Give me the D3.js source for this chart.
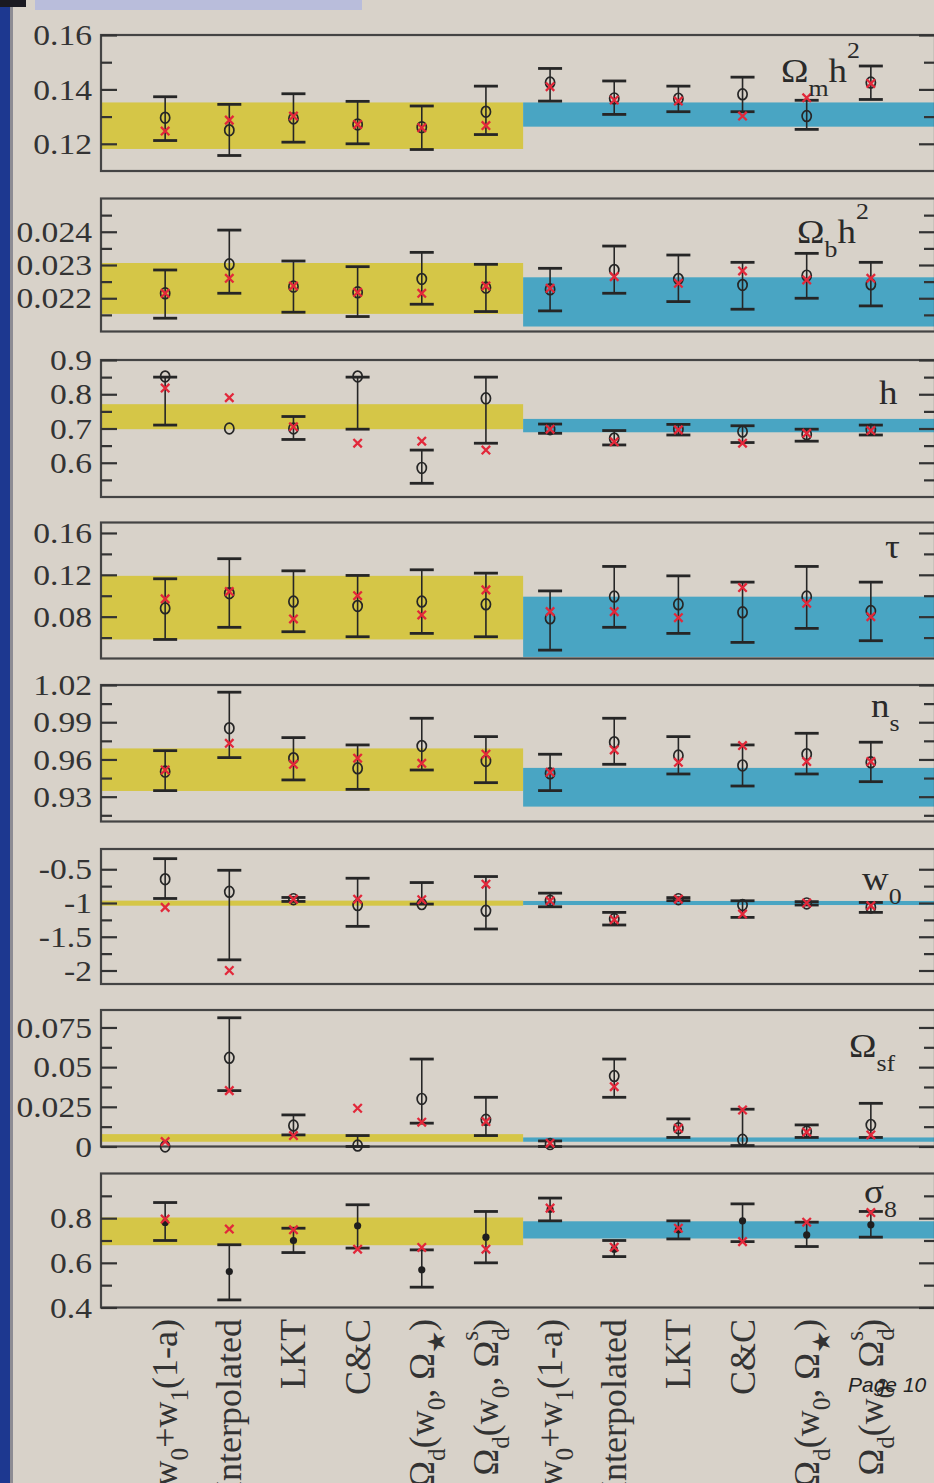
<!DOCTYPE html>
<html>
<head>
<meta charset="utf-8">
<script src="https://cdn.jsdelivr.net/npm/d3@7"></script>
<style>
  html, body { margin: 0; padding: 0; background: #d8d2c9; }
  svg { display: block; }
</style>
</head>
<body>
<div id="chart"></div>
<script>
// ---- categories (two groups of the same six dark-energy parametrisations) ----
const methods = ["w_{0}+w_{1}(1-a)", "Interpolated", "LKT", "C&C", "Ω_{d}(w_{0}, Ω_{★})", "Ω_{d}(w_{0}, Ω_{d}^{s})"];
const categories = methods.concat(methods);

// ---- Ω_m h^2 ----
const omMid = [0.1296, 0.1250, 0.1293, 0.1271, 0.1261, 0.1318, 0.1425, 0.1367, 0.1366, 0.1382, 0.1302, 0.1425];
const omHi  = [0.1373, 0.1345, 0.1384, 0.1356, 0.1339, 0.1412, 0.1477, 0.1431, 0.1412, 0.1445, 0.1360, 0.1486];
const omLo  = [0.1212, 0.1157, 0.1206, 0.1200, 0.1179, 0.1234, 0.1357, 0.1308, 0.1318, 0.1318, 0.1253, 0.1363];
const omAlt = [0.1247, 0.1287, 0.1302, 0.1271, 0.1259, 0.1267, 0.1410, 0.1361, 0.1357, 0.1302, 0.1369, 0.1422];
const omBands = [[0.1181, 0.1352], [0.1263, 0.1352]];
const omTicks = [0.12, 0.14, 0.16], omTickLabels = ["0.12", "0.14", "0.16"], omMinor = [0.13, 0.15];

// ---- Ω_b h^2 ----
const obMid = [0.02215, 0.02302, 0.02235, 0.02218, 0.02258, 0.02232, 0.02227, 0.02285, 0.02258, 0.02240, 0.02268, 0.02242];
const obHi  = [0.02285, 0.02405, 0.02312, 0.02295, 0.02338, 0.02302, 0.02290, 0.02357, 0.02330, 0.02308, 0.02335, 0.02308];
const obLo  = [0.02140, 0.02215, 0.02158, 0.02145, 0.02182, 0.02160, 0.02162, 0.02215, 0.02190, 0.02167, 0.02200, 0.02177];
const obAlt = [0.02215, 0.02260, 0.02237, 0.02218, 0.02215, 0.02237, 0.02230, 0.02265, 0.02245, 0.02282, 0.02255, 0.02260];
const obBands = [[0.02153, 0.02306], [0.02115, 0.02263]];
const obTicks = [0.022, 0.023, 0.024], obTickLabels = ["0.022", "0.023", "0.024"], obMinor = [0.0215, 0.0225, 0.0235, 0.0245];

// ---- h ----
const hMid = [0.852, 0.700, 0.700, 0.852, 0.585, 0.788, 0.698, 0.671, 0.698, 0.691, 0.683, 0.696];
const hHi  = [0.850, null, 0.735, 0.850, 0.637, 0.850, 0.713, 0.694, 0.712, 0.708, 0.698, 0.710];
const hLo  = [0.710, null, 0.668, 0.698, 0.540, 0.657, 0.686, 0.652, 0.681, 0.659, 0.663, 0.681];
const hAlt = [0.818, 0.790, 0.705, 0.657, 0.663, 0.637, 0.698, 0.661, 0.696, 0.657, 0.686, 0.694];
const hBands = [[0.698, 0.771], [0.689, 0.728]];
const hTicks = [0.6, 0.7, 0.8, 0.9], hTickLabels = ["0.6", "0.7", "0.8", "0.9"], hMinor = [0.55, 0.65, 0.75, 0.85];

// ---- τ ----
const tauMid = [0.0880, 0.1024, 0.0944, 0.0902, 0.0944, 0.0918, 0.0784, 0.0992, 0.0918, 0.0842, 0.0992, 0.0854];
const tauHi  = [0.1162, 0.1354, 0.1238, 0.1194, 0.1248, 0.1216, 0.1046, 0.1280, 0.1190, 0.1130, 0.1280, 0.1130];
const tauLo  = [0.0582, 0.0698, 0.0656, 0.0608, 0.0640, 0.0608, 0.0480, 0.0698, 0.0640, 0.0554, 0.0688, 0.0570];
const tauAlt = [0.0970, 0.1040, 0.0778, 0.1000, 0.0816, 0.1056, 0.0848, 0.0848, 0.0790, 0.1078, 0.0928, 0.0800];
const tauBands = [[0.0582, 0.119], [0.0415, 0.0991]];
const tauTicks = [0.08, 0.12, 0.16], tauTickLabels = ["0.08", "0.12", "0.16"], tauMinor = [0.06, 0.10, 0.14];

// ---- n_s ----
const nsMid = [0.9502, 0.9852, 0.9610, 0.9529, 0.9709, 0.9588, 0.9488, 0.9739, 0.9631, 0.9552, 0.9642, 0.9577];
const nsHi  = [0.9671, 1.0142, 0.9776, 0.9717, 0.9932, 0.9784, 0.9642, 0.9932, 0.9784, 0.9717, 0.9811, 0.9739];
const nsLo  = [0.9349, 0.9615, 0.9435, 0.9359, 0.9515, 0.9413, 0.9349, 0.9561, 0.9483, 0.9386, 0.9483, 0.9421];
const nsAlt = [0.9515, 0.9730, 0.9561, 0.9610, 0.9569, 0.9642, 0.9496, 0.9677, 0.9577, 0.9712, 0.9583, 0.9583];
const nsBands = [[0.9346, 0.9689], [0.922, 0.9532]];
const nsTicks = [0.93, 0.96, 0.99, 1.02], nsTickLabels = ["0.93", "0.96", "0.99", "1.02"], nsMinor = [0.915, 0.945, 0.975, 1.005];

// ---- w_0 ----
const w0Mid = [-0.648, -0.834, -0.943, -1.031, -1.016, -1.115, -0.967, -1.238, -0.943, -1.031, -1.006, -1.065];
const w0Hi  = [-0.343, -0.515, -0.918, -0.633, -0.697, -0.608, -0.854, -1.139, -0.920, -0.967, -0.980, -0.992];
const w0Lo  = [-0.933, -1.842, -0.977, -1.346, -1.016, -1.385, -1.056, -1.326, -0.965, -1.213, -1.030, -1.139];
const w0Alt = [-1.065, -2.000, -0.943, -0.943, -0.952, -0.721, -0.967, -1.247, -0.943, -1.164, -1.000, -1.040];
const w0Bands = [[-1.04, -0.965], [-1.03, -0.97]];
const w0Ticks = [-2, -1.5, -1, -0.5], w0TickLabels = ["-2", "-1.5", "-1", "-0.5"], w0Minor = [-1.75, -1.25, -0.75];

// ---- Ω_sf ----
const sfMid = [0.0000, 0.0559, 0.0132, 0.0006, 0.0300, 0.0168, 0.0015, 0.0444, 0.0115, 0.0042, 0.0094, 0.0136];
const sfHi  = [null, 0.0811, 0.0199, 0.0069, 0.0551, 0.0310, 0.0035, 0.0551, 0.0174, 0.0235, 0.0136, 0.0272];
const sfLo  = [null, 0.0352, 0.0073, 0.0000, 0.0147, 0.0069, 0.0000, 0.0310, 0.0057, 0.0006, 0.0057, 0.0057];
const sfAlt = [0.0031, 0.0352, 0.0069, 0.0241, 0.0153, 0.0157, 0.0021, 0.0377, 0.0115, 0.0230, 0.0090, 0.0073];
const sfBands = [[0.003, 0.0078], [0.003, 0.0057]];
const sfTicks = [0, 0.025, 0.05, 0.075], sfTickLabels = ["0", "0.025", "0.05", "0.075"], sfMinor = [0.0125, 0.0375, 0.0625];

// ---- σ_8 ----
const s8Mid = [0.781, 0.561, 0.700, 0.766, 0.569, 0.715, 0.840, 0.661, 0.748, 0.788, 0.725, 0.770];
const s8Hi  = [0.870, 0.681, 0.755, 0.860, 0.658, 0.830, 0.890, 0.700, 0.788, 0.864, 0.782, 0.830];
const s8Lo  = [0.700, 0.434, 0.646, 0.666, 0.491, 0.600, 0.788, 0.628, 0.707, 0.695, 0.673, 0.715];
const s8Alt = [0.796, 0.751, 0.748, 0.661, 0.669, 0.661, 0.845, 0.670, 0.755, 0.695, 0.782, 0.825];
const s8Bands = [[0.679, 0.803], [0.709, 0.786]];
const s8Ticks = [0.4, 0.6, 0.8], s8TickLabels = ["0.4", "0.6", "0.8"], s8Minor = [0.5, 0.7, 0.9];

// ---- panel layout (pixel placement of each stacked frame) ----
const panels = [
  { title: "Ω_{m}h^{2}", tx: 781, ty: 82,  domain: [0.11, 0.16],  top: 35,    bottom: 171,    mid: omMid,  hi: omHi,  lo: omLo,  alt: omAlt,  bands: omBands,  ticks: omTicks,  labels: omTickLabels,  minor: omMinor },
  { title: "Ω_{b}h^{2}", tx: 797, ty: 243, domain: [0.021, 0.025], top: 198.5, bottom: 331.5,  mid: obMid,  hi: obHi,  lo: obLo,  alt: obAlt,  bands: obBands,  ticks: obTicks,  labels: obTickLabels,  minor: obMinor },
  { title: "h",          tx: 879, ty: 404, domain: [0.5, 0.9],    top: 360,   bottom: 497,    mid: hMid,   hi: hHi,   lo: hLo,   alt: hAlt,   bands: hBands,   ticks: hTicks,   labels: hTickLabels,   minor: hMinor },
  { title: "τ",          tx: 885, ty: 558, domain: [0.04, 0.17],  top: 522.5, bottom: 658.5,  mid: tauMid, hi: tauHi, lo: tauLo, alt: tauAlt, bands: tauBands, ticks: tauTicks, labels: tauTickLabels, minor: tauMinor },
  { title: "n_{s}",      tx: 871, ty: 717, domain: [0.91, 1.02],  top: 685,   bottom: 821.5,  mid: nsMid,  hi: nsHi,  lo: nsLo,  alt: nsAlt,  bands: nsBands,  ticks: nsTicks,  labels: nsTickLabels,  minor: nsMinor },
  { title: "w_{0}",      tx: 862, ty: 890, domain: [-2.2, -0.2],  top: 849,   bottom: 984,    mid: w0Mid,  hi: w0Hi,  lo: w0Lo,  alt: w0Alt,  bands: w0Bands,  ticks: w0Ticks,  labels: w0TickLabels,  minor: w0Minor },
  { title: "Ω_{sf}",     tx: 849, ty: 1057, domain: [0, 0.086],   top: 1010,  bottom: 1146.5, mid: sfMid,  hi: sfHi,  lo: sfLo,  alt: sfAlt,  bands: sfBands,  ticks: sfTicks,  labels: sfTickLabels,  minor: sfMinor },
  { title: "σ_{8}",      tx: 864, ty: 1203, domain: [0.4, 1.0],   top: 1173.5, bottom: 1307.5, mid: s8Mid, hi: s8Hi,  lo: s8Lo,  alt: s8Alt,  bands: s8Bands,  ticks: s8Ticks,  labels: s8TickLabels,  minor: s8Minor, dots: true }
];

const W = 934, H = 1483;
const xLeft = 101, xRight = 935;
const serif = "'Liberation Serif', 'Times New Roman', serif";
const ink = "#262626";
const stretch = 1.12;               // slide text is set slightly wide
const bandColors = ["#d5c647", "#49a5c3"];

const svg = d3.select("#chart").append("svg").attr("width", W).attr("height", H);
svg.append("rect").attr("width", W).attr("height", H).attr("fill", "#d8d2c9");

// slide chrome: window edge on the left and a title strip at the top
svg.append("rect").attr("x", 0).attr("y", 0).attr("width", 10).attr("height", H).attr("fill", "#1d3890");
svg.append("rect").attr("x", 10).attr("y", 0).attr("width", 3).attr("height", H).attr("fill", "#8d8c93");
svg.append("rect").attr("x", 0).attr("y", 0).attr("width", 26).attr("height", 7).attr("fill", "#1a1a22");
svg.append("rect").attr("x", 35).attr("y", 0).attr("width", 327).attr("height", 10).attr("fill", "#b9bddb");

const x = d3.scalePoint().domain(d3.range(categories.length)).range([xLeft, xRight]).padding(1);
const step = x.step();
const split = x(6) - step * 0.42;

// writes markup like "Ω_{d}^{s}" as tspans with sub/superscripts
function rich(text, markup, size, subShift = 0.42, supShift = 0.72) {
  const re = /([_^])\{([^}]*)\}|([^_^]+)/g;
  let m, shift = 0, prevSub = null;
  while ((m = re.exec(markup))) {
    let target = 0, fs = size, txt, dx = 0;
    if (m[1]) {
      txt = m[2];
      fs = size * 0.7;
      target = m[1] === "_" ? size * subShift : -size * supShift;
      if (m[1] === "^" && prevSub) dx = -prevSub * fs * 0.5;
      prevSub = m[1] === "_" ? txt.length : null;
    } else { txt = m[3]; prevSub = null; }
    text.append("tspan").attr("dy", target - shift).attr("dx", dx).attr("font-size", fs).text(txt);
    shift = target;
  }
}

function crossPath(cx, cy, r) {
  return `M${cx - r},${cy - r}L${cx + r},${cy + r}M${cx - r},${cy + r}L${cx + r},${cy - r}`;
}

panels.forEach(p => {
  const y = d3.scaleLinear().domain(p.domain).range([p.bottom, p.top]);
  const g = svg.append("g");

  // reference bands for the two data combinations
  const spans = [[xLeft, split], [split, xRight]];
  p.bands.forEach((b, k) => {
    g.append("rect")
      .attr("x", spans[k][0]).attr("width", spans[k][1] - spans[k][0])
      .attr("y", y(b[1])).attr("height", y(b[0]) - y(b[1]))
      .attr("fill", bandColors[k]);
  });

  // frame
  g.append("rect").attr("x", xLeft).attr("y", p.top)
    .attr("width", xRight - xLeft).attr("height", p.bottom - p.top)
    .attr("fill", "none").attr("stroke", "#444").attr("stroke-width", 2.2);

  const styleAxis = sel => {
    sel.select(".domain").remove();
    sel.selectAll(".tick line").attr("stroke", "#333").attr("stroke-width", 2.2);
    sel.selectAll(".tick text")
      .attr("x", 0).attr("transform", `translate(-9,0) scale(${stretch},1)`)
      .attr("font-family", serif).attr("font-size", 30).attr("fill", "#333");
  };

  g.append("g").attr("transform", `translate(${xLeft},0)`)
    .call(d3.axisLeft(y).tickValues(p.ticks).tickFormat((d, i) => p.labels[i]).tickSize(-16).tickPadding(9))
    .call(styleAxis);
  g.append("g").attr("transform", `translate(${xLeft},0)`)
    .call(d3.axisLeft(y).tickValues(p.minor).tickFormat("").tickSize(-11))
    .call(styleAxis);
  g.append("g").attr("transform", `translate(${xRight},0)`)
    .call(d3.axisRight(y).tickValues(p.ticks).tickFormat("").tickSize(-16))
    .call(styleAxis);
  g.append("g").attr("transform", `translate(${xRight},0)`)
    .call(d3.axisRight(y).tickValues(p.minor).tickFormat("").tickSize(-11))
    .call(styleAxis);

  // error bars
  const idx = d3.range(categories.length);
  const withBars = idx.filter(i => p.hi[i] != null);
  g.selectAll(".bar").data(withBars).join("line")
    .attr("x1", i => x(i)).attr("x2", i => x(i))
    .attr("y1", i => y(p.hi[i])).attr("y2", i => y(p.lo[i]))
    .attr("stroke", ink).attr("stroke-width", 1.6);
  const caps = withBars.flatMap(i => [[i, p.hi[i]], [i, p.lo[i]]]);
  g.selectAll(".cap").data(caps).join("line")
    .attr("x1", d => x(d[0]) - 12).attr("x2", d => x(d[0]) + 12)
    .attr("y1", d => y(d[1])).attr("y2", d => y(d[1]))
    .attr("stroke", ink).attr("stroke-width", 2.8);

  // central values
  if (p.dots) {
    g.selectAll(".mid").data(idx).join("circle")
      .attr("cx", i => x(i)).attr("cy", i => y(p.mid[i])).attr("r", 3.6)
      .attr("fill", "#1f1f1f");
  } else {
    g.selectAll(".mid").data(idx).join("ellipse")
      .attr("cx", i => x(i)).attr("cy", i => y(p.mid[i])).attr("rx", 4.6).attr("ry", 5.4)
      .attr("fill", "none").attr("stroke", ink).attr("stroke-width", 1.7);
  }

  // best-fit values
  g.selectAll(".alt").data(idx).join("path")
    .attr("d", i => crossPath(x(i), y(p.alt[i]), 4.2))
    .attr("fill", "none").attr("stroke", "#e2283a").attr("stroke-width", 2.3);

  // parameter name
  const t = g.append("text")
    .attr("transform", `translate(${p.tx},${p.ty}) scale(${stretch},1)`)
    .attr("font-family", serif).attr("font-size", 33).attr("fill", "#2a2a2a");
  rich(t, p.title, 33);
});

// rotated category names under the last panel
categories.forEach((c, i) => {
  const t = svg.append("text")
    .attr("transform", `translate(${x(i) + 12},1319) rotate(-90)`)
    .attr("text-anchor", "end")
    .attr("font-family", serif).attr("font-size", 36).attr("fill", "#333");
  rich(t, c, 36, 0.3, 0.55);
});

svg.append("text").attr("x", 848).attr("y", 1392)
  .attr("font-family", "'Liberation Sans', Arial, sans-serif").attr("font-style", "italic")
  .attr("font-size", 21).attr("fill", "#222").text("Page 10");
</script>
</body>
</html>
